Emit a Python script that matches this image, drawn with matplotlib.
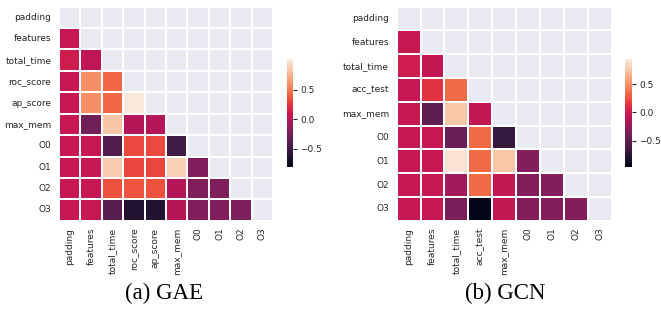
import numpy as np
import matplotlib
matplotlib.use("Agg")
import matplotlib.pyplot as plt
import seaborn as sns

sns.set_theme(style="darkgrid")

gae_labels = ["padding", "features", "total_time", "roc_score", "ap_score",
              "max_mem", "O0", "O1", "O2", "O3"]
# lower-triangle rows (row i has i values, columns 0..i-1)
gae_rows = [
    [],
    [0.08],
    [0.12, 0.06],
    [0.08, 0.60, 0.44],
    [0.08, 0.60, 0.44, 1.00],
    [0.08, -0.28, 0.84, 0.01, 0.01],
    [0.08, 0.08, -0.42, 0.33, 0.33, -0.49],
    [0.08, 0.08, 0.87, 0.32, 0.32, 0.89, -0.21],
    [0.08, 0.08, 0.36, 0.37, 0.36, 0.01, -0.21, -0.21],
    [0.08, 0.08, -0.38, -0.64, -0.63, 0.01, -0.21, -0.21, -0.22],
]
gae_range = (-0.80, 1.02)

gcn_labels = ["padding", "features", "total_time", "acc_test", "max_mem",
              "O0", "O1", "O2", "O3"]
gcn_rows = [
    [],
    [-0.03],
    [0.01, -0.05],
    [-0.03, 0.13, 0.35],
    [-0.03, -0.50, 0.76, -0.05],
    [-0.03, -0.03, -0.45, 0.35, -0.69],
    [-0.03, -0.03, 0.90, 0.35, 0.76, -0.33],
    [-0.03, -0.03, -0.20, 0.35, -0.05, -0.33, -0.33],
    [-0.03, -0.03, -0.37, -0.96, -0.05, -0.33, -0.33, -0.33],
]
gcn_range = (-0.96, 0.94)

cbar_ticks = [-0.5, 0.0, 0.5]
cbar_ticklabels = ["\u22120.5", "0.0", "0.5"]


def build(labels, rows):
    n = len(labels)
    m = np.zeros((n, n))
    for i, r in enumerate(rows):
        for j, v in enumerate(r):
            m[i, j] = v
            m[j, i] = v
    m[np.diag_indices(n)] = 1.0
    mask = np.triu(np.ones((n, n), dtype=bool))
    return m, mask


W, H = 661, 318
fig = plt.figure(figsize=(W / 100, H / 100), dpi=100)


def px(x0, y0, x1, y1):
    return [x0 / W, 1 - y1 / H, (x1 - x0) / W, (y1 - y0) / H]


panels = [
    (gae_labels, gae_rows, gae_range, px(59, 6.7, 273, 220.7),
     px(286.7, 59.3, 293.3, 166.7), "(a) GAE", 164),
    (gcn_labels, gcn_rows, gcn_range, px(396.7, 6.7, 611.7, 220.7),
     px(625, 59.3, 632, 166.7), "(b) GCN", 505),
]

FS = 6.5
for labels, rows, (vmin, vmax), axpos, cbpos, caption, cx in panels:
    m, mask = build(labels, rows)
    n = len(labels)
    ax = fig.add_axes(axpos)
    cax = fig.add_axes(cbpos)
    sns.heatmap(m, mask=mask, ax=ax, cbar_ax=cax, cmap="rocket",
                vmin=vmin, vmax=vmax,
                linewidths=1.2, linecolor="white",
                xticklabels=labels, yticklabels=labels)
    ax.set_facecolor("#EAEAF2")
    ax.set_xticks(np.arange(n + 1), minor=True)
    ax.set_yticks(np.arange(n + 1), minor=True)
    ax.grid(False, which="major")
    ax.grid(True, which="minor", color="white", linewidth=1.2)
    ax.set_axisbelow(True)
    ax.tick_params(axis="both", which="both", length=0, colors="#262626")
    ax.tick_params(axis="x", pad=5)
    ax.tick_params(axis="y", pad=5.5)
    ax.set_xticklabels(labels, rotation=90, fontsize=FS)
    ax.set_yticklabels(labels, rotation=0, fontsize=FS)
    for s in ax.spines.values():
        s.set_visible(False)
    cax.set_yticks(cbar_ticks)
    cax.set_yticklabels(cbar_ticklabels)
    cax.tick_params(labelsize=FS, length=3, width=0.8, colors="#262626", pad=2)
    fig.text(cx / W, 1 - 293 / H, caption, ha="center", va="center",
             fontsize=16.5, family="Liberation Serif", color="black")

fig.savefig("out.png", dpi=100)
